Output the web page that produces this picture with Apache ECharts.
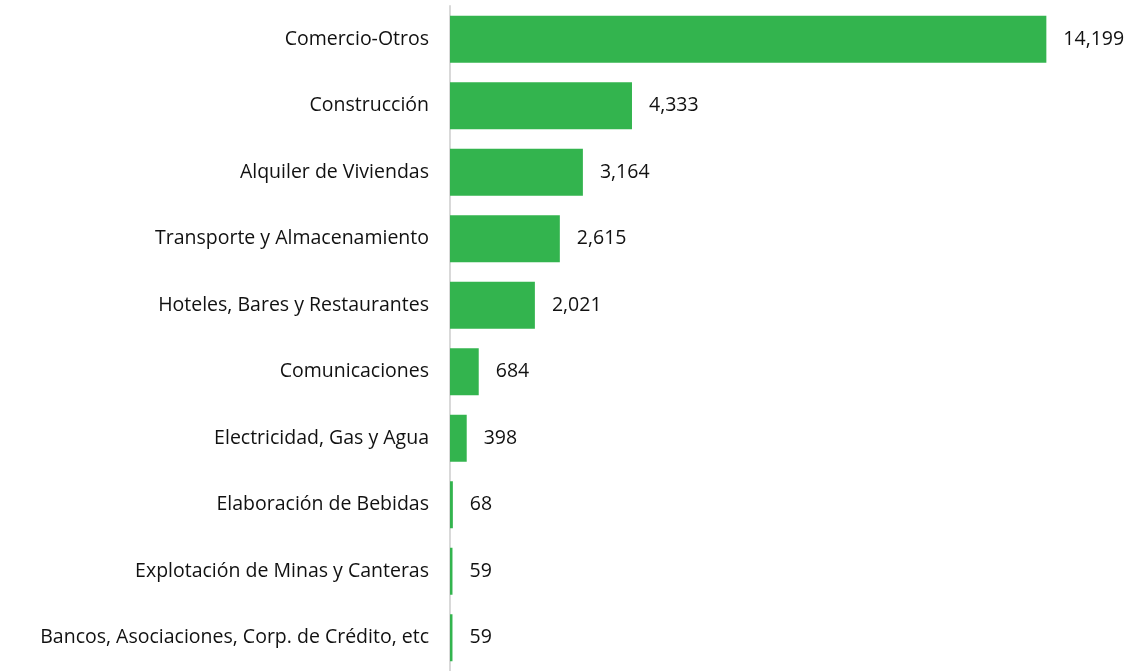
<!DOCTYPE html>
<html>
<head>
<meta charset="utf-8">
<script src="https://cdn.jsdelivr.net/npm/echarts@6/dist/echarts.min.js"></script>
<style>
  html, body { margin: 0; padding: 0; background: #fff; }
  #main { width: 1137px; height: 671px; }
</style>
</head>
<body>
<div id="main"></div>
<script>
// top to bottom as shown
const categories = [
  'Comercio-Otros',
  'Construcción',
  'Alquiler de Viviendas',
  'Transporte y Almacenamiento',
  'Hoteles, Bares y Restaurantes',
  'Comunicaciones',
  'Electricidad, Gas y Agua',
  'Elaboración de Bebidas',
  'Explotación de Minas y Canteras',
  'Bancos, Asociaciones, Corp. de Crédito, etc'
];
const values = [14199, 4333, 3164, 2615, 2021, 684, 398, 68, 59, 59];

const chart = echarts.init(document.getElementById('main'));
const font = '"Open Sans", sans-serif';

chart.setOption({
  animation: false,
  grid: { left: 450, right: 57, top: 6, bottom: 0, containLabel: false },
  xAxis: {
    type: 'value',
    min: 0,
    max: 15000,
    show: false
  },
  yAxis: {
    type: 'category',
    inverse: true,
    data: categories,
    axisLine: { show: true, lineStyle: { color: '#d9d9d9', width: 2 } },
    axisTick: { show: false },
    axisLabel: { color: '#111', fontSize: 19.5, fontFamily: font, margin: 21 }
  },
  series: [{
    type: 'bar',
    data: values,
    barWidth: 47,
    itemStyle: { color: '#33b44e' },
    label: {
      show: true,
      position: 'right',
      distance: 17,
      color: '#111',
      fontSize: 19.5,
      fontFamily: font,
      formatter: p => p.value.toLocaleString('en-US')
    }
  }]
});
</script>
</body>
</html>
